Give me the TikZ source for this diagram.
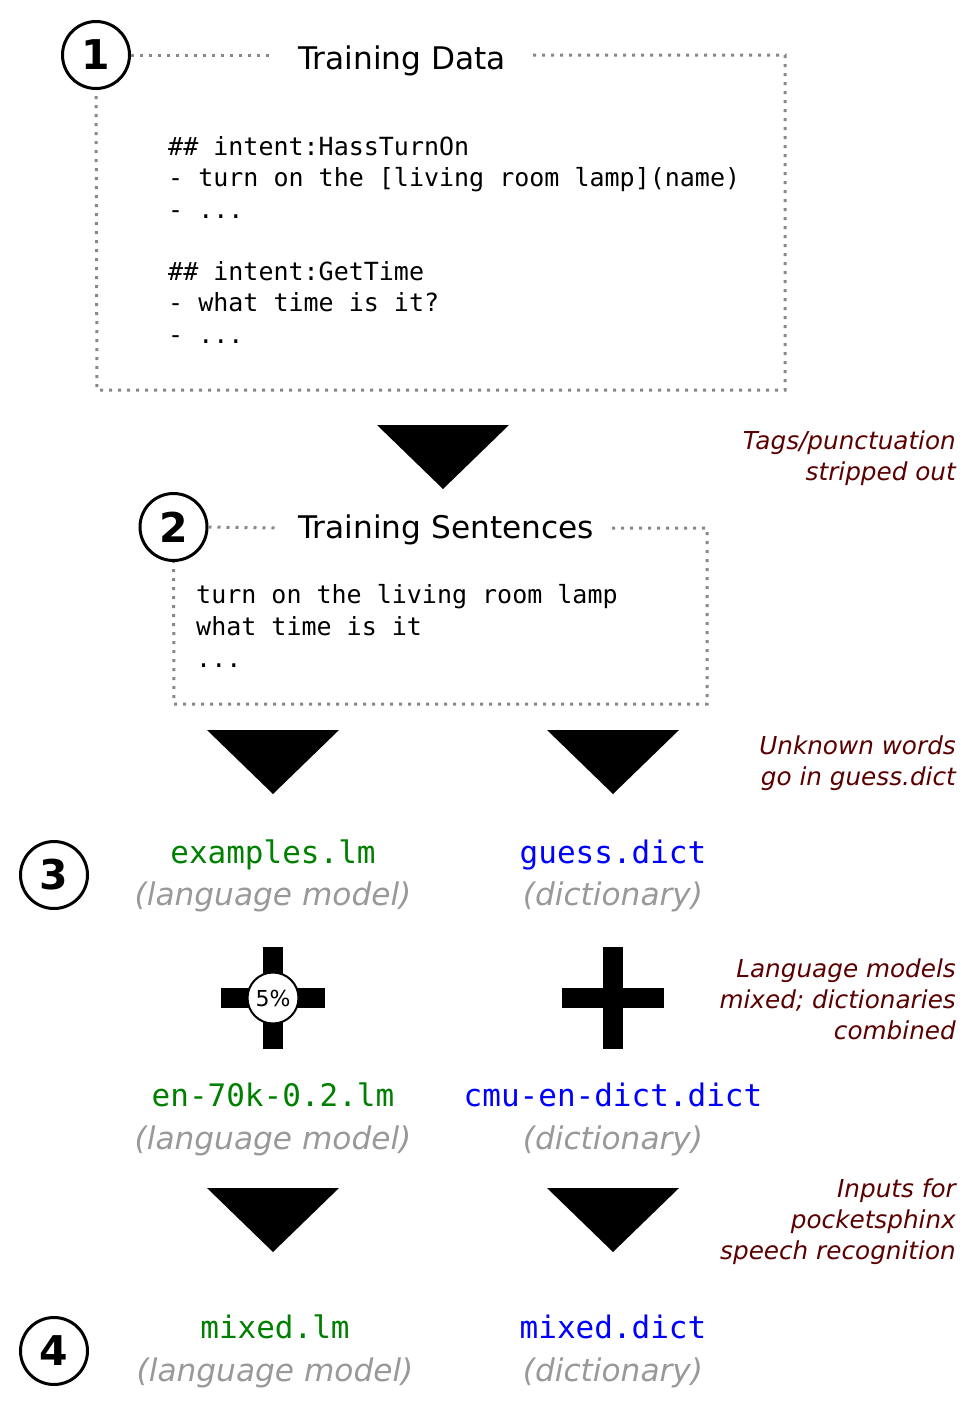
\documentclass[tikz,border=0pt]{standalone}
\usepackage{fontspec}
\setmainfont{DejaVu Sans}
\setmonofont{DejaVu Sans Mono}
\definecolor{notered}{HTML}{5A0000}
\definecolor{lmgreen}{HTML}{008000}
\definecolor{dictblue}{HTML}{0000FF}
\definecolor{subgray}{HTML}{999999}
\definecolor{dotgray}{HTML}{888888}
\begin{document}
\begin{tikzpicture}[x=1pt,y=-1pt,
  num/.style={circle, draw, line width=3pt, minimum size=67pt, inner sep=0pt, font=\fontsize{41}{41}\selectfont\bfseries},
  dotline/.style={draw=dotgray, line width=3pt, dash pattern=on 3pt off 6pt, line cap=butt},
  mono/.style={font=\fontsize{25}{30}\selectfont\ttfamily, anchor=base west, inner sep=0pt},
  head/.style={font=\fontsize{31.2}{36}\selectfont, anchor=base west, inner sep=0pt},
  note/.style={font=\fontsize{24.7}{30}\selectfont\itshape, text=notered, anchor=base east, inner sep=0pt},
  lmname/.style={font=\fontsize{31}{36}\selectfont\ttfamily, text=lmgreen, anchor=base, inner sep=0pt},
  dictname/.style={font=\fontsize{31}{36}\selectfont\ttfamily, text=dictblue, anchor=base, inner sep=0pt},
  sub/.style={font=\fontsize{31.2}{36}\selectfont\itshape, text=subgray, anchor=base, inner sep=0pt},
  tri/.style={fill=black},
  bar/.style={fill=black}
]
\useasboundingbox (0,0) rectangle (976,1406);

% ---- Step 1 ----
\node[num] (n1) at (96,55) {1};
\node[head] (t1) at (298,69) {Training Data};
\coordinate (b1a) at (272,55);
\coordinate (b1b) at (533,55);
\coordinate (b1c) at (785,55);
\coordinate (b1d) at (785,390);
\coordinate (b1e) at (97,390);
\draw[dotline] (n1.east) -- (b1a);
\draw[dotline] (b1b) -- (b1c) -- (b1d) -- (b1e) -- (n1.south);

\node[mono] (l1) at (168,155) {\#\# intent:HassTurnOn};
\node[mono] (l2) at (168,186) {- turn on the [living room lamp](name)};
\node[mono] (l3) at (168,218) {- ...};
\node[mono] (l4) at (168,280) {\#\# intent:GetTime};
\node[mono] (l5) at (168,311) {- what time is it?};
\node[mono] (l6) at (168,343) {- ...};

% arrow 1
\fill[tri] (377,425) -- (509,425) -- (443,489) -- cycle;
\node[note] (c1a) at (956,449) {Tags/punctuation};
\node[note] (c1b) at (956,480) {stripped out};

% ---- Step 2 ----
\node[num] (n2) at (173.5,527) {2};
\node[head] (t2) at (298,538) {Training Sentences};
\coordinate (b2a) at (280,528);
\coordinate (b2b) at (612,528);
\coordinate (b2c) at (707,528);
\coordinate (b2d) at (707,704);
\coordinate (b2e) at (174,704);
\draw[dotline] (n2.east) -- (b2a);
\draw[dotline] (b2b) -- (b2c) -- (b2d) -- (b2e) -- (n2.south);

\node[mono] (s1) at (196,603) {turn on the living room lamp};
\node[mono] (s2) at (196,635) {what time is it};
\node[mono] (s3) at (196,667) {...};

% arrows 2
\fill[tri] (207,730) -- (339,730) -- (273,794) -- cycle;
\fill[tri] (547,730) -- (679,730) -- (613,794) -- cycle;
\node[note] (c2a) at (956,754) {Unknown words};
\node[note] (c2b) at (956,785) {go in guess.dict};

% ---- Step 3 ----
\node[num] (n3) at (54,875) {3};
\node[lmname] (e1) at (273,863) {examples.lm};
\node[sub] (e1s) at (273,905) {(language model)};
\node[dictname] (g1) at (613,863) {guess.dict};
\node[sub] (g1s) at (613,905) {(dictionary)};

% plus signs
\fill[bar] (263,947) rectangle (283,1049);
\fill[bar] (221,988) rectangle (325,1008);
\node[circle, draw, line width=2pt, fill=white, minimum size=51pt, inner sep=0pt, font=\fontsize{22}{24}\selectfont] (pct) at (273,998) {5\%};
\fill[bar] (603,947) rectangle (623,1049);
\fill[bar] (562,988) rectangle (664,1008);
\node[note] (c3a) at (956,977) {Language models};
\node[note] (c3b) at (956,1008) {mixed; dictionaries};
\node[note] (c3c) at (956,1039) {combined};

\node[lmname] (e2) at (273,1106) {en-70k-0.2.lm};
\node[sub] (e2s) at (273,1149) {(language model)};
\node[dictname] (g2) at (613,1106) {cmu-en-dict.dict};
\node[sub] (g2s) at (613,1149) {(dictionary)};

% arrows 3
\fill[tri] (207,1188) -- (339,1188) -- (273,1252) -- cycle;
\fill[tri] (547,1188) -- (679,1188) -- (613,1252) -- cycle;
\node[note] (c4a) at (956,1197) {Inputs for};
\node[note] (c4b) at (956,1228) {pocketsphinx};
\node[note] (c4c) at (956,1259) {speech recognition};

% ---- Step 4 ----
\node[num] (n4) at (54,1351) {4};
\node[lmname] (e3) at (275,1338) {mixed.lm};
\node[sub] (e3s) at (275,1381) {(language model)};
\node[dictname] (g3) at (613,1338) {mixed.dict};
\node[sub] (g3s) at (613,1381) {(dictionary)};
\end{tikzpicture}
\end{document}
